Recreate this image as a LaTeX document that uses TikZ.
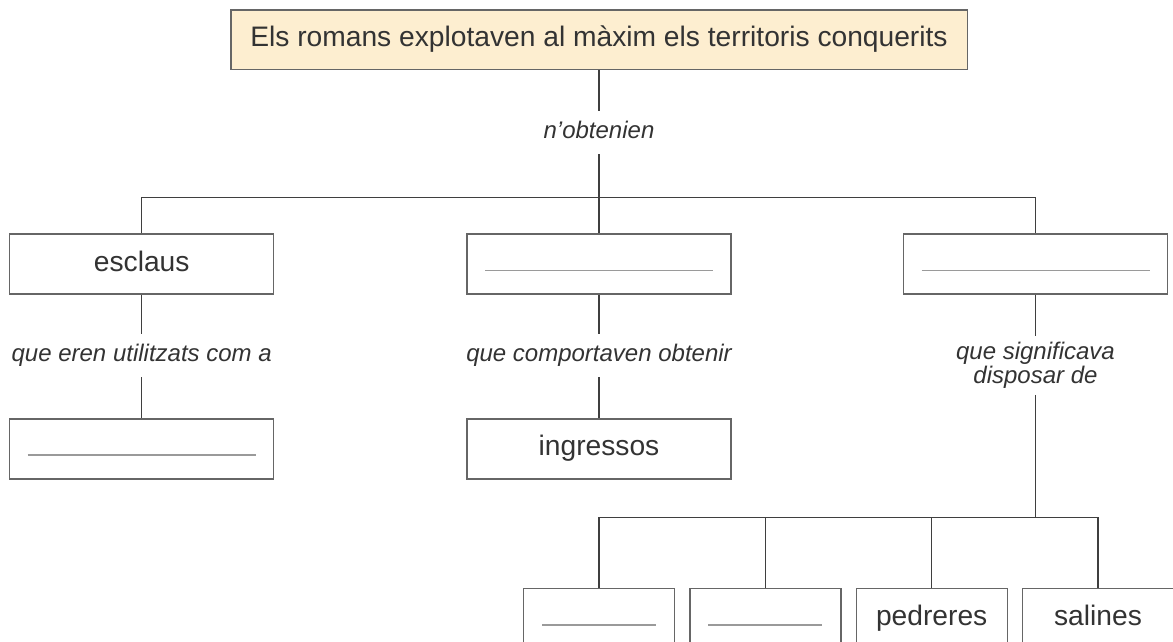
\documentclass[tikz,border=0pt]{standalone}
\usepackage{fontspec}
\setmainfont{Liberation Sans}
\definecolor{topfill}{HTML}{FDEED0}
\definecolor{boxc}{HTML}{666666}
\definecolor{linec}{HTML}{3F3F3F}
\definecolor{txtc}{HTML}{333333}
\definecolor{phc}{HTML}{9A9A9A}
\newcommand{\blankline}[1]{{\color{phc}\rule{#1}{1.5pt}}}
\tikzset{
  conn/.style={draw=linec, line width=1.4pt},
  box/.style={draw=boxc, line width=1.4pt, inner sep=0pt, text height=20pt, text depth=6pt,
    minimum height=60pt, font=\fontsize{28.2}{33}\selectfont, text=txtc},
  topbox/.style={box, fill=topfill, minimum width=736.4pt, minimum height=59.3pt},
  wide/.style={box, minimum width=264pt},
  narrow/.style={box, minimum width=151pt},
  lbl/.style={inner sep=0pt, text height=17pt, text depth=5pt, minimum height=43pt,
    font=\fontsize{24}{24}\selectfont\itshape, text=txtc},
  lbltwo/.style={inner sep=0pt, align=center, minimum height=58.7pt,
    font=\fontsize{24}{24}\selectfont\itshape, text=txtc},
}
\begin{document}
\begin{tikzpicture}[x=1pt, y=-1pt]
\useasboundingbox (0,0) rectangle (1173,642);
\clip (0,0) rectangle (1173,642);
\node[topbox] (top) at (599,39.7) {Els romans explotaven al màxim els territoris conquerits};
\node[lbl] (l0) at (599,132.5) {n’obtenien};
\coordinate (bus1) at (599,197.7);
\node[wide] (b1) at (141.7,264) {esclaus};
\node[wide] (b2) at (599,264) {\blankline{228pt}};
\node[wide] (b3) at (1035.5,264) {\blankline{228pt}};
\node[lbl] (l1) at (141.7,355.5) {que eren utilitzats com a};
\node[lbl] (l2) at (599,355.5) {que comportaven obtenir};
\node[lbltwo] (l3) at (1035.5,365.3) {que significava\\disposar de};
\node[wide] (c1) at (141.7,448.8) {\blankline{228pt}};
\node[wide] (c2) at (599,448.8) {ingressos};
\coordinate (bus2) at (1035.5,517.5);
\node[narrow] (d1) at (599,618.7) {\blankline{114pt}};
\node[narrow] (d2) at (765.3,618.7) {\blankline{114pt}};
\node[narrow] (d3) at (931.7,618.7) {pedreres};
\node[narrow] (d4) at (1098,618.7) {salines};
\draw[conn] (top.south) -- (l0.north);
\draw[conn] (l0.south) -- (bus1) -- (b2.north);
\draw[conn] (b1.north) |- (bus1) -| (b3.north);
\draw[conn] (b1.south) -- (l1.north);
\draw[conn] (l1.south) -- (c1.north);
\draw[conn] (b2.south) -- (l2.north);
\draw[conn] (l2.south) -- (c2.north);
\draw[conn] (b3.south) -- (l3.north);
\draw[conn] (l3.south) -- (bus2);
\draw[conn] (d1.north) |- (bus2) -| (d4.north);
\draw[conn] (d2.north) -- (d2.north |- bus2);
\draw[conn] (d3.north) -- (d3.north |- bus2);
\end{tikzpicture}
\end{document}
